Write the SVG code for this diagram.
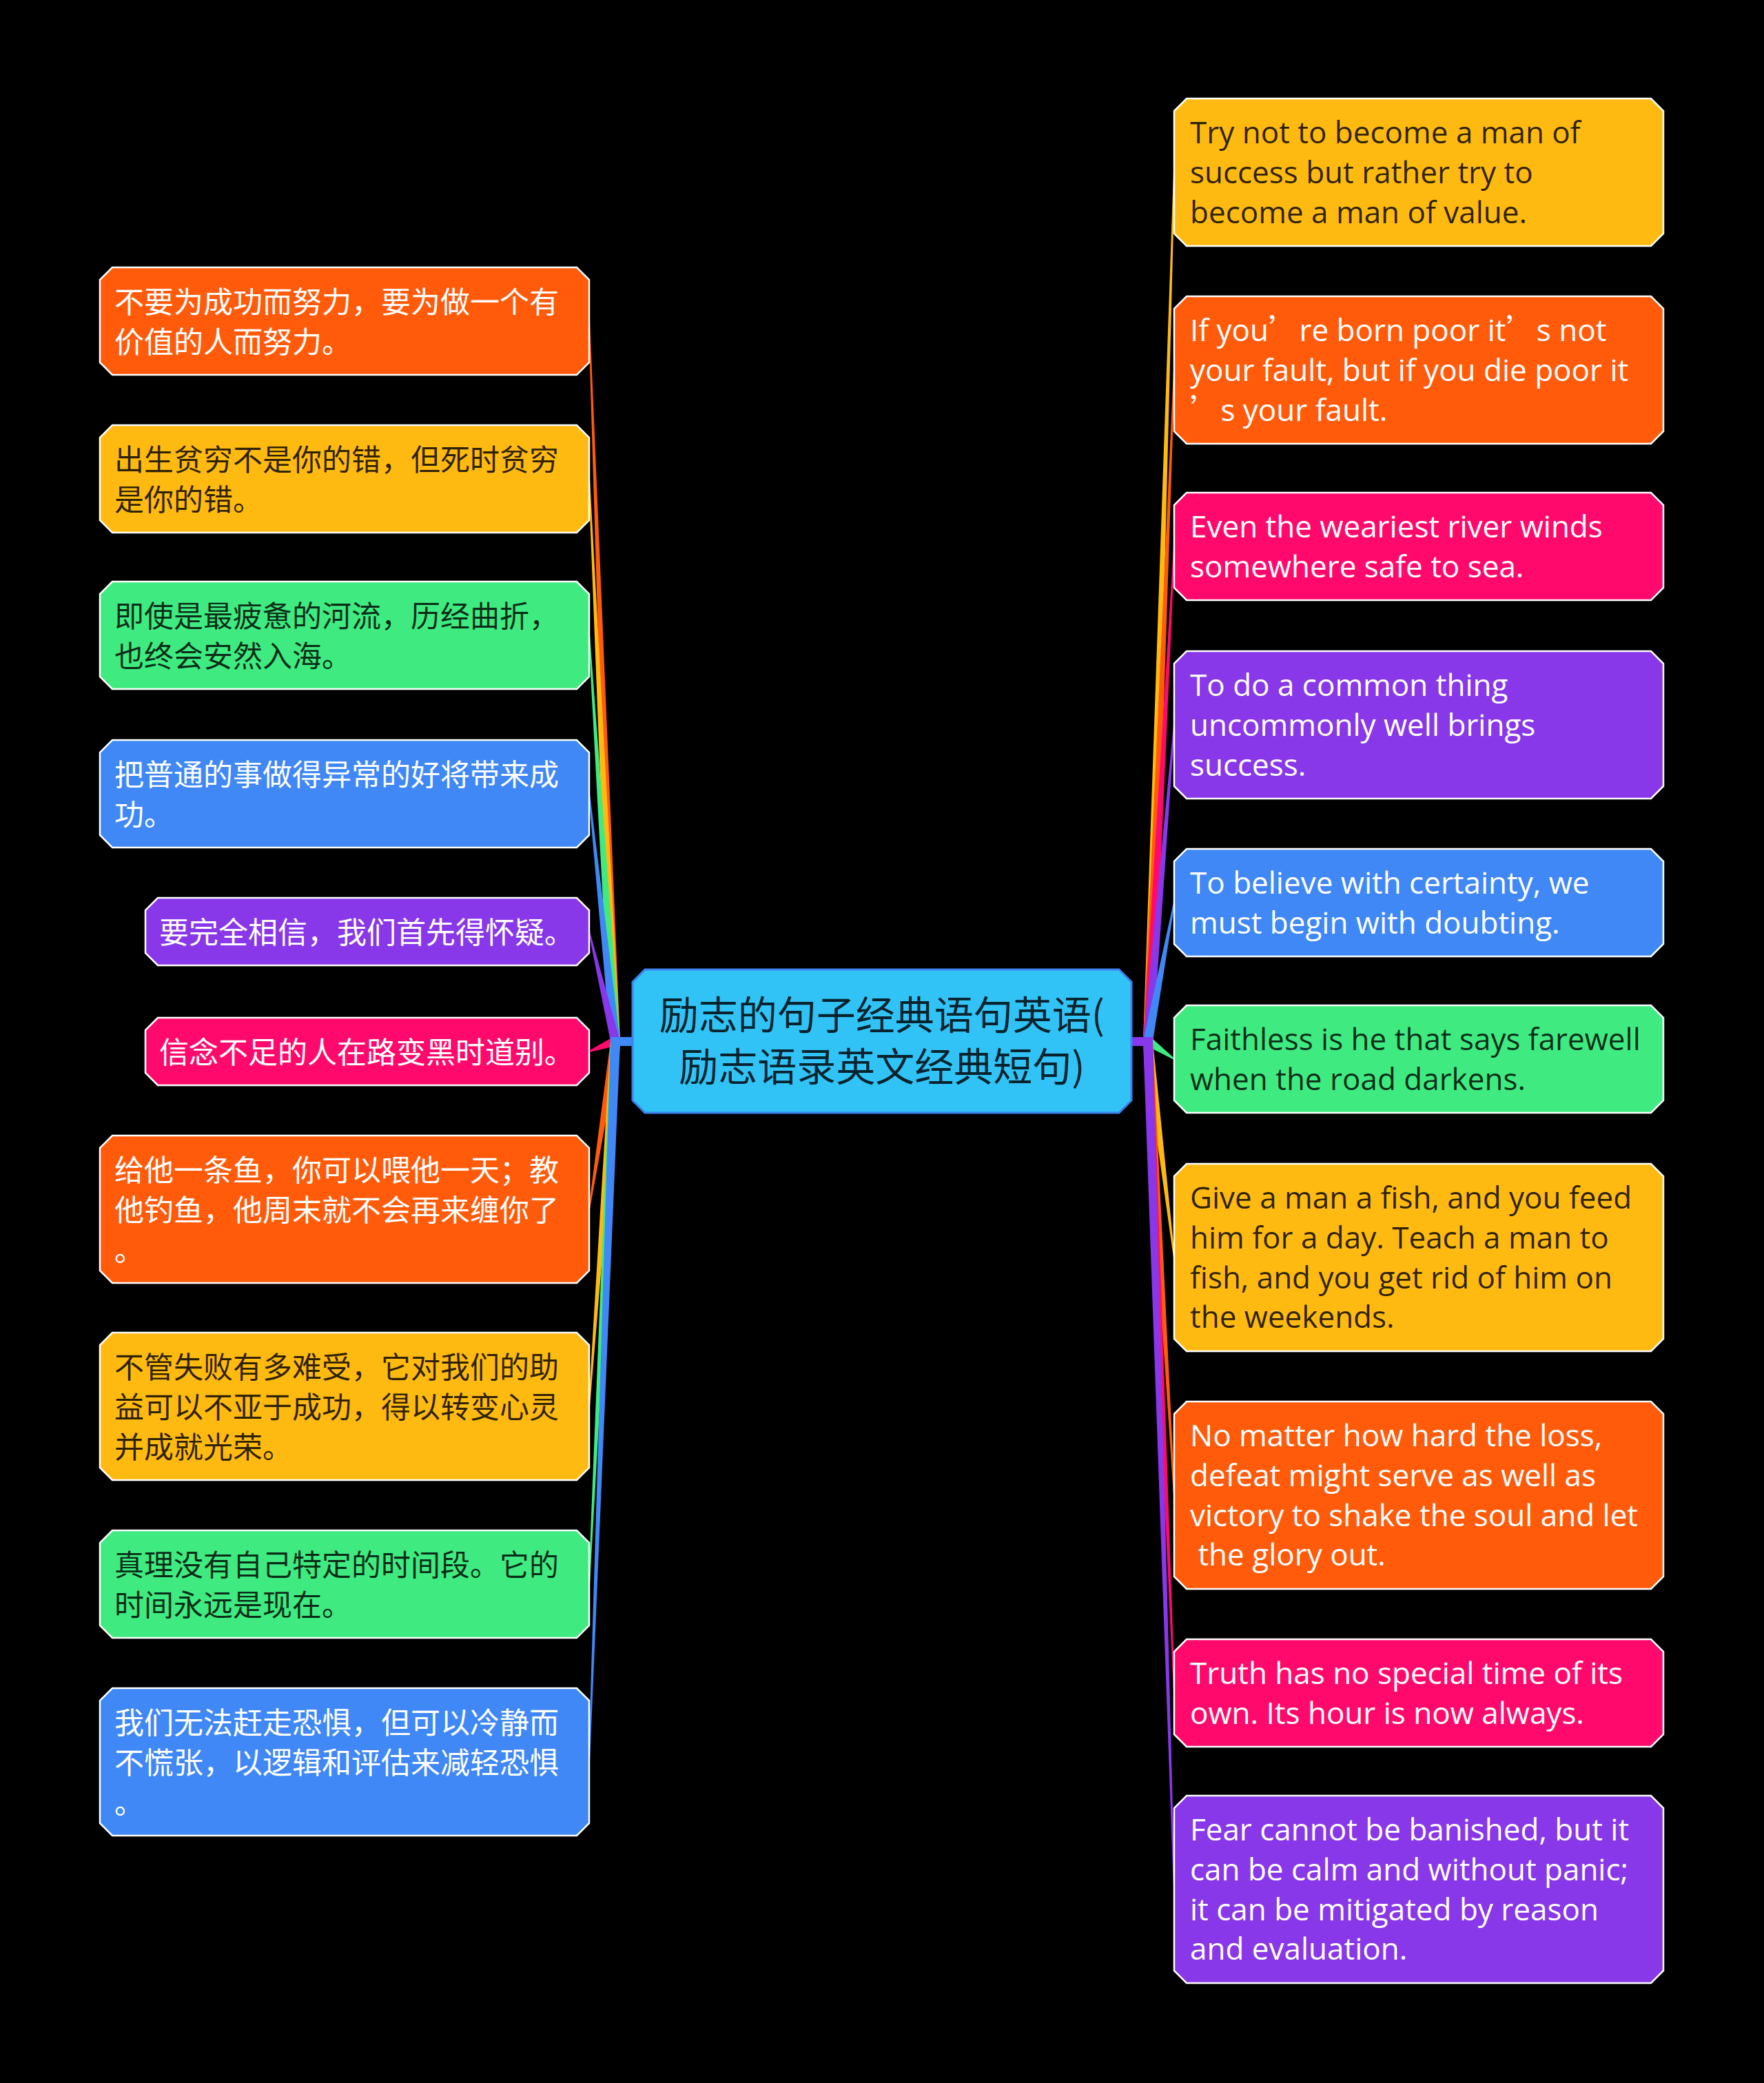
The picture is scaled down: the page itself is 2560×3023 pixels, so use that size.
<svg xmlns="http://www.w3.org/2000/svg" width="2560" height="3023" viewBox="0 0 2560 3023">
<defs>
<style>
.or{fill:#FF5B0B}
.ye{fill:#FFBA12}
.gr{fill:#3FEB80}
.bl{fill:#3F88F6}
.pu{fill:#8838E8}
.pk{fill:#FF0A6C}
.n{stroke:#ffffff;stroke-width:2.5;stroke-linejoin:miter}
.c{fill:#31C3F6;stroke:#3B80EE;stroke-width:3}
.zh{font-family:"Noto Sans CJK SC","Noto Sans CJK TC",sans-serif;font-size:43px}
.en{font-family:"Open Sans","Noto Sans",sans-serif;font-size:44px}
.ct{font-family:"Noto Sans CJK SC","Noto Sans CJK TC",sans-serif;font-size:57px;text-anchor:middle}
.w{fill:#ffffff}
.d{fill:#000000;fill-opacity:0.82}
.q{font-family:"Noto Sans CJK SC",sans-serif;letter-spacing:-11px}
</style>
</defs>
<rect x="0" y="0" width="2560" height="3023" fill="#000000"/>

<g id="connectors">
  <polygon class="or" points="900,1511 856,466 854,466 886,1511"/>
  <polygon class="ye" points="900,1511 856,695 854,695 886,1511"/>
  <polygon class="gr" points="900,1511 856,922 854,922 886,1511"/>
  <polygon class="bl" points="900,1511 856,1152 854,1152 886,1511"/>
  <polygon class="pu" points="900,1511 856,1352 854,1352 886,1511"/>
  <polygon class="pk" points="890.4,1504.5 854.6,1525.1 855.4,1526.9 895.6,1517.5"/>
  <polygon class="or" points="900,1511 856,1755 854,1755 886,1511"/>
  <polygon class="ye" points="900,1511 856,2041 854,2041 886,1511"/>
  <polygon class="gr" points="900,1511 856,2299 854,2299 886,1511"/>
  <polygon class="bl" points="900,1511 856,2557 854,2557 886,1511"/>
  <rect class="bl" x="886" y="1505" width="32" height="13"/>

  <polygon class="ye" points="1673,1511 1705,250 1703,250 1659,1511"/>
  <polygon class="or" points="1673,1511 1705,537 1703,537 1659,1511"/>
  <polygon class="pk" points="1673,1511 1705,793 1703,793 1659,1511"/>
  <polygon class="pu" points="1673,1511 1705,1052 1703,1052 1659,1511"/>
  <polygon class="bl" points="1673,1511 1705,1310 1703,1310 1659,1511"/>
  <polygon class="gr" points="1662,1516.8 1703.4,1537.8 1704.6,1536.2 1670,1505.2"/>
  <polygon class="ye" points="1673,1511 1705,1825 1703,1825 1659,1511"/>
  <polygon class="or" points="1673,1511 1705,2170 1703,2170 1659,1511"/>
  <polygon class="pk" points="1673,1511 1705,2457 1703,2457 1659,1511"/>
  <polygon class="pu" points="1673,1511 1705,2742 1703,2742 1659,1511"/>
  <rect class="pu" x="1642" y="1505" width="31" height="13"/>
</g>

<g id="center">
  <polygon class="c" points="936,1407 1624,1407 1642,1425 1642,1597 1624,1615 936,1615 918,1597 918,1425"/>
  <text class="ct d" x="1280" y="1494">励志的句子经典语句英语(</text>
  <text class="ct d" x="1280" y="1569">励志语录英文经典短句)</text>
</g>

<g id="left-1">
  <polygon class="n or" points="163,388 837,388 855,406 855,526 837,544 163,544 145,526 145,406"/>
  <text class="zh w" x="166" y="454">不要为成功而努力，要为做一个有</text>
  <text class="zh w" x="166" y="511.8">价值的人而努力。</text>
</g>
<g id="left-2">
  <polygon class="n ye" points="163,617 837,617 855,635 855,755 837,773 163,773 145,755 145,635"/>
  <text class="zh d" x="166" y="683">出生贫穷不是你的错，但死时贫穷</text>
  <text class="zh d" x="166" y="740.8">是你的错。</text>
</g>
<g id="left-3">
  <polygon class="n gr" points="163,844 837,844 855,862 855,982 837,1000 163,1000 145,982 145,862"/>
  <text class="zh d" x="166" y="910">即使是最疲惫的河流，历经曲折，</text>
  <text class="zh d" x="166" y="967.8">也终会安然入海。</text>
</g>
<g id="left-4">
  <polygon class="n bl" points="163,1074 837,1074 855,1092 855,1212 837,1230 163,1230 145,1212 145,1092"/>
  <text class="zh w" x="166" y="1140">把普通的事做得异常的好将带来成</text>
  <text class="zh w" x="166" y="1197.8">功。</text>
</g>
<g id="left-5">
  <polygon class="n pu" points="229,1303 837,1303 855,1321 855,1383 837,1401 229,1401 211,1383 211,1321"/>
  <text class="zh w" x="231" y="1369">要完全相信，我们首先得怀疑。</text>
</g>
<g id="left-6">
  <polygon class="n pk" points="229,1477 837,1477 855,1495 855,1557 837,1575 229,1575 211,1557 211,1495"/>
  <text class="zh w" x="231" y="1543">信念不足的人在路变黑时道别。</text>
</g>
<g id="left-7">
  <polygon class="n or" points="163,1648 837,1648 855,1666 855,1844 837,1862 163,1862 145,1844 145,1666"/>
  <text class="zh w" x="166" y="1714">给他一条鱼，你可以喂他一天；教</text>
  <text class="zh w" x="166" y="1771.8">他钓鱼，他周末就不会再来缠你了</text>
  <text class="zh w" x="166" y="1829.6">。</text>
</g>
<g id="left-8">
  <polygon class="n ye" points="163,1934 837,1934 855,1952 855,2130 837,2148 163,2148 145,2130 145,1952"/>
  <text class="zh d" x="166" y="2000">不管失败有多难受，它对我们的助</text>
  <text class="zh d" x="166" y="2057.8">益可以不亚于成功，得以转变心灵</text>
  <text class="zh d" x="166" y="2115.6">并成就光荣。</text>
</g>
<g id="left-9">
  <polygon class="n gr" points="163,2221 837,2221 855,2239 855,2359 837,2377 163,2377 145,2359 145,2239"/>
  <text class="zh d" x="166" y="2287">真理没有自己特定的时间段。它的</text>
  <text class="zh d" x="166" y="2344.8">时间永远是现在。</text>
</g>
<g id="left-10">
  <polygon class="n bl" points="163,2450 837,2450 855,2468 855,2646 837,2664 163,2664 145,2646 145,2468"/>
  <text class="zh w" x="166" y="2516">我们无法赶走恐惧，但可以冷静而</text>
  <text class="zh w" x="166" y="2573.8">不慌张，以逻辑和评估来减轻恐惧</text>
  <text class="zh w" x="166" y="2631.6">。</text>
</g>

<g id="right-1">
  <polygon class="n ye" points="1722,143 2396,143 2414,161 2414,339 2396,357 1722,357 1704,339 1704,161"/>
  <text class="en d" x="1727" y="208">Try not to become a man of</text>
  <text class="en d" x="1727" y="265.8">success but rather try to</text>
  <text class="en d" x="1727" y="323.6">become a man of value.</text>
</g>
<g id="right-2">
  <polygon class="n or" points="1722,430 2396,430 2414,448 2414,626 2396,644 1722,644 1704,626 1704,448"/>
  <text class="en w" x="1727" y="495">If you<tspan class="q">’</tspan> re born poor it<tspan class="q">’</tspan> s not</text>
  <text class="en w" x="1727" y="552.8">your fault, but if you die poor it</text>
  <text class="en w" x="1727" y="610.6"><tspan class="q">’</tspan> s your fault.</text>
</g>
<g id="right-3">
  <polygon class="n pk" points="1722,715 2396,715 2414,733 2414,853 2396,871 1722,871 1704,853 1704,733"/>
  <text class="en w" x="1727" y="780">Even the weariest river winds</text>
  <text class="en w" x="1727" y="837.8">somewhere safe to sea.</text>
</g>
<g id="right-4">
  <polygon class="n pu" points="1722,945 2396,945 2414,963 2414,1141 2396,1159 1722,1159 1704,1141 1704,963"/>
  <text class="en w" x="1727" y="1010">To do a common thing</text>
  <text class="en w" x="1727" y="1067.8">uncommonly well brings</text>
  <text class="en w" x="1727" y="1125.6">success.</text>
</g>
<g id="right-5">
  <polygon class="n bl" points="1722,1232 2396,1232 2414,1250 2414,1370 2396,1388 1722,1388 1704,1370 1704,1250"/>
  <text class="en w" x="1727" y="1297">To believe with certainty, we</text>
  <text class="en w" x="1727" y="1354.8">must begin with doubting.</text>
</g>
<g id="right-6">
  <polygon class="n gr" points="1722,1459 2396,1459 2414,1477 2414,1597 2396,1615 1722,1615 1704,1597 1704,1477"/>
  <text class="en d" x="1727" y="1524">Faithless is he that says farewell</text>
  <text class="en d" x="1727" y="1581.8">when the road darkens.</text>
</g>
<g id="right-7">
  <polygon class="n ye" points="1722,1689 2396,1689 2414,1707 2414,1943 2396,1961 1722,1961 1704,1943 1704,1707"/>
  <text class="en d" x="1727" y="1754">Give a man a fish, and you feed</text>
  <text class="en d" x="1727" y="1811.8">him for a day. Teach a man to</text>
  <text class="en d" x="1727" y="1869.6">fish, and you get rid of him on</text>
  <text class="en d" x="1727" y="1927.4">the weekends.</text>
</g>
<g id="right-8">
  <polygon class="n or" points="1722,2034 2396,2034 2414,2052 2414,2288 2396,2306 1722,2306 1704,2288 1704,2052"/>
  <text class="en w" x="1727" y="2099">No matter how hard the loss,</text>
  <text class="en w" x="1727" y="2156.8">defeat might serve as well as</text>
  <text class="en w" x="1727" y="2214.6">victory to shake the soul and let</text>
  <text class="en w" x="1727" y="2272.4" xml:space="preserve"> the glory out.</text>
</g>
<g id="right-9">
  <polygon class="n pk" points="1722,2379 2396,2379 2414,2397 2414,2517 2396,2535 1722,2535 1704,2517 1704,2397"/>
  <text class="en w" x="1727" y="2444">Truth has no special time of its</text>
  <text class="en w" x="1727" y="2501.8">own. Its hour is now always.</text>
</g>
<g id="right-10">
  <polygon class="n pu" points="1722,2606 2396,2606 2414,2624 2414,2860 2396,2878 1722,2878 1704,2860 1704,2624"/>
  <text class="en w" x="1727" y="2671">Fear cannot be banished, but it</text>
  <text class="en w" x="1727" y="2728.8">can be calm and without panic;</text>
  <text class="en w" x="1727" y="2786.6">it can be mitigated by reason</text>
  <text class="en w" x="1727" y="2844.4">and evaluation.</text>
</g>
</svg>
